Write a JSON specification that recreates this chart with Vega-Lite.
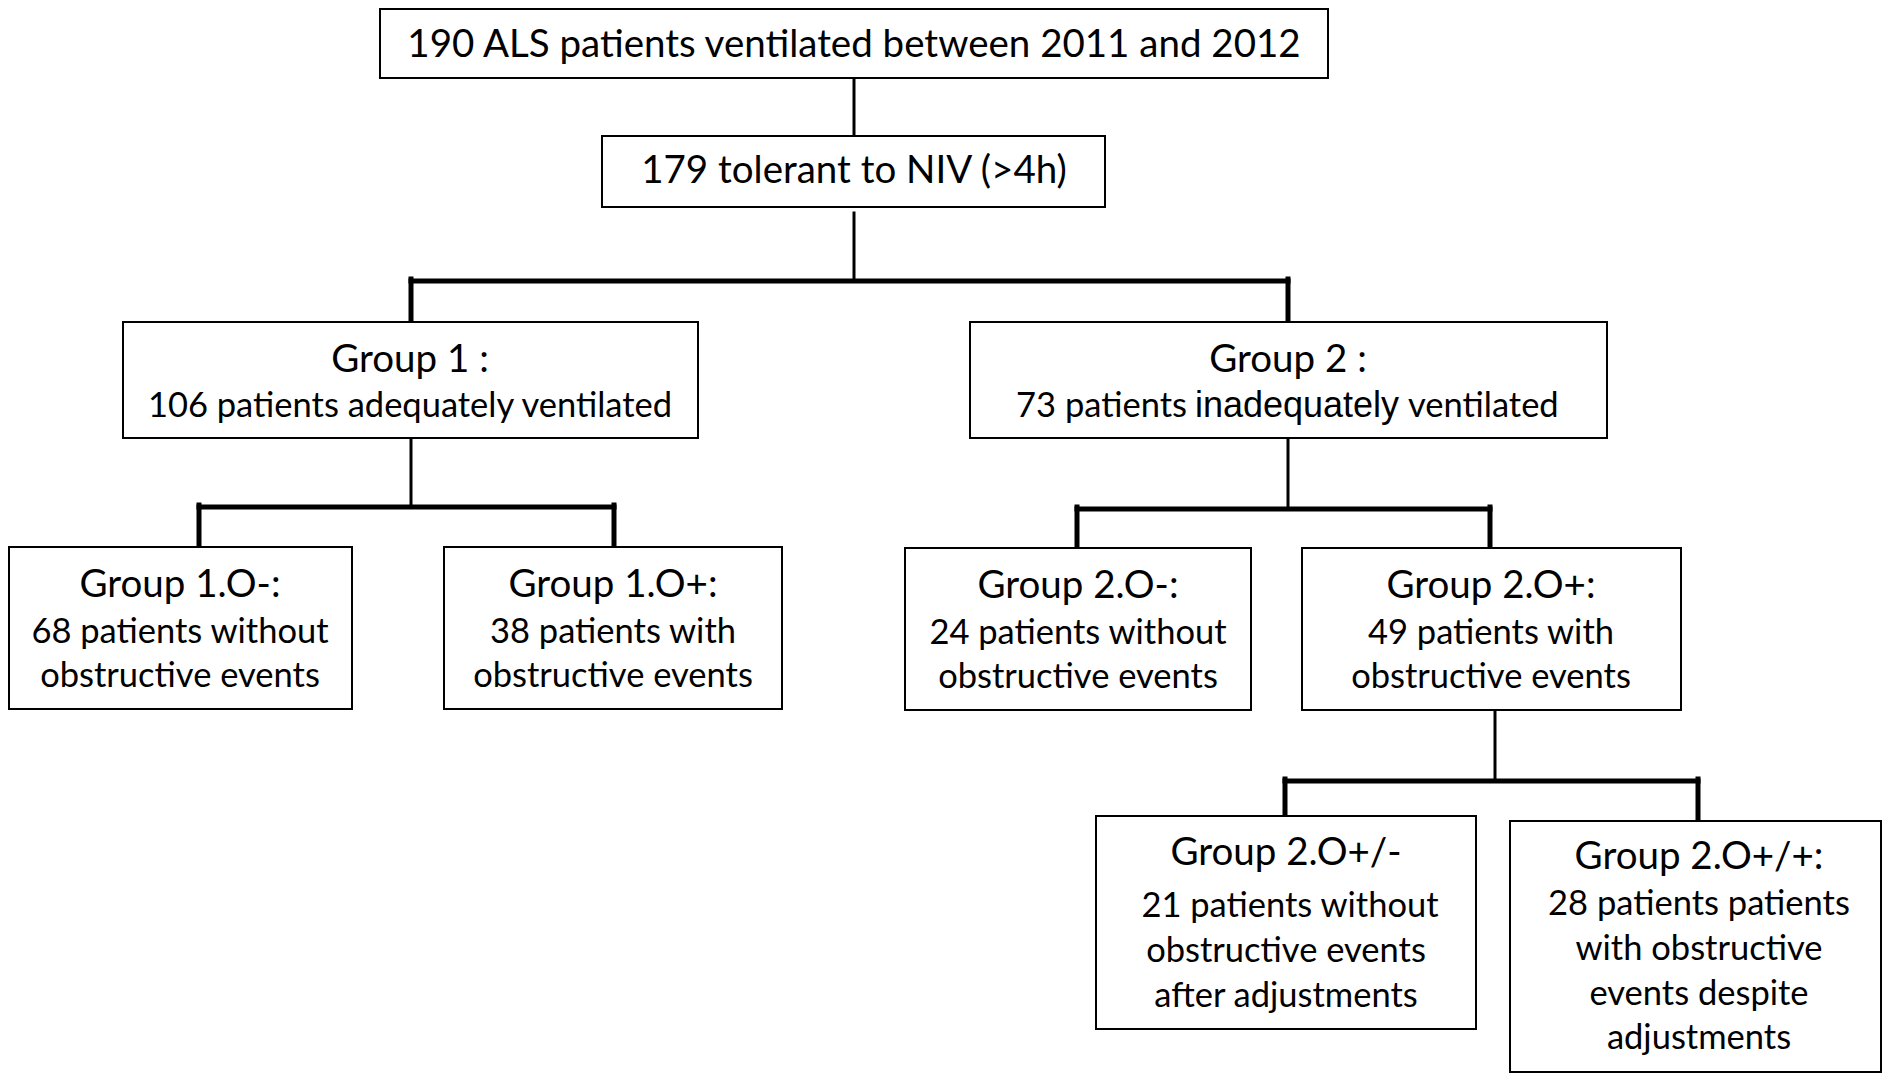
{
  "$schema": "https://vega.github.io/schema/vega-lite/v6.json",
  "width": 1883,
  "height": 1074,
  "padding": 0,
  "autosize": {"type": "fit", "contains": "padding"},
  "background": "white",
  "config": {"view": {"stroke": null}},
  "datasets": {
    "boxes": [
      {"box": "all", "x": 380, "x2": 1328, "y": 9, "y2": 78},
      {"box": "niv", "x": 602, "x2": 1105, "y": 136, "y2": 207},
      {"box": "g1", "x": 123, "x2": 698, "y": 322, "y2": 438},
      {"box": "g2", "x": 970, "x2": 1607, "y": 322, "y2": 438},
      {"box": "g1o-", "x": 9, "x2": 352, "y": 547, "y2": 709},
      {"box": "g1o+", "x": 444, "x2": 782, "y": 547, "y2": 709},
      {"box": "g2o-", "x": 905, "x2": 1251, "y": 548, "y2": 710},
      {"box": "g2o+", "x": 1302, "x2": 1681, "y": 548, "y2": 710},
      {"box": "g2o+/-", "x": 1096, "x2": 1476, "y": 816, "y2": 1029},
      {"box": "g2o+/+", "x": 1510, "x2": 1881, "y": 821, "y2": 1072}
    ],
    "links": [
      {"x": 854, "y": 78, "x2": 854, "y2": 136, "kind": "thin"},
      {"x": 854, "y": 213, "x2": 854, "y2": 279, "kind": "thin"},
      {"x": 411, "y": 281, "x2": 1288, "y2": 281, "kind": "thick"},
      {"x": 411, "y": 279, "x2": 411, "y2": 320, "kind": "thick"},
      {"x": 1288, "y": 279, "x2": 1288, "y2": 322, "kind": "thick"},
      {"x": 411, "y": 438, "x2": 411, "y2": 505, "kind": "thin"},
      {"x": 199, "y": 507, "x2": 614, "y2": 507, "kind": "thick"},
      {"x": 199, "y": 505, "x2": 199, "y2": 547, "kind": "thick"},
      {"x": 614, "y": 505, "x2": 614, "y2": 547, "kind": "thick"},
      {"x": 1288, "y": 438, "x2": 1288, "y2": 507, "kind": "thin"},
      {"x": 1077, "y": 509, "x2": 1490, "y2": 509, "kind": "thick"},
      {"x": 1077, "y": 507, "x2": 1077, "y2": 548, "kind": "thick"},
      {"x": 1490, "y": 507, "x2": 1490, "y2": 548, "kind": "thick"},
      {"x": 1495, "y": 710, "x2": 1495, "y2": 779, "kind": "thin"},
      {"x": 1285, "y": 781, "x2": 1698, "y2": 781, "kind": "thick"},
      {"x": 1285, "y": 779, "x2": 1285, "y2": 817, "kind": "thick"},
      {"x": 1698, "y": 779, "x2": 1698, "y2": 821, "kind": "thick"}
    ],
    "labels": [
      {"x": 854, "y": 57, "text": "190 ALS patients ventilated between 2011 and 2012", "role": "title"},
      {"x": 854, "y": 183, "text": "179 tolerant to NIV (>4h)", "role": "title"},
      {"x": 410, "y": 372, "text": "Group 1 :", "role": "title"},
      {"x": 410, "y": 417, "text": "106 patients adequately ventilated", "role": "body"},
      {"x": 1288, "y": 372, "text": "Group 2  :", "role": "title"},
      {"x": 180, "y": 597, "text": "Group 1.O-:", "role": "title"},
      {"x": 180, "y": 643, "text": "68 patients without", "role": "body"},
      {"x": 180, "y": 687, "text": "obstructive events", "role": "body"},
      {"x": 613, "y": 597, "text": "Group 1.O+:", "role": "title"},
      {"x": 613, "y": 643, "text": "38 patients with", "role": "body"},
      {"x": 613, "y": 687, "text": "obstructive events", "role": "body"},
      {"x": 1078, "y": 598, "text": "Group 2.O-:", "role": "title"},
      {"x": 1078, "y": 644, "text": "24 patients without", "role": "body"},
      {"x": 1078, "y": 688, "text": "obstructive events", "role": "body"},
      {"x": 1491, "y": 598, "text": "Group 2.O+:", "role": "title"},
      {"x": 1491, "y": 644, "text": "49 patients with", "role": "body"},
      {"x": 1491, "y": 688, "text": "obstructive events", "role": "body"},
      {"x": 1286, "y": 865, "text": "Group 2.O+/-", "role": "title"},
      {"x": 1290, "y": 917, "text": "21 patients without", "role": "body"},
      {"x": 1286, "y": 962, "text": "obstructive events", "role": "body"},
      {"x": 1286, "y": 1007, "text": "after adjustments", "role": "body"},
      {"x": 1699, "y": 869, "text": "Group 2.O+/+:", "role": "title"},
      {"x": 1699, "y": 915, "text": "28 patients patients", "role": "body"},
      {"x": 1699, "y": 960, "text": "with obstructive", "role": "body"},
      {"x": 1699, "y": 1005, "text": "events despite", "role": "body"},
      {"x": 1699, "y": 1049, "text": "adjustments", "role": "body"}
    ],
    "mixed": [
      {"x": 1187, "y": 417, "text": "73 patients", "part": "left"},
      {"x": 1297, "y": 417, "text": "inadequately", "part": "mid"},
      {"x": 1408, "y": 417, "text": "ventilated", "part": "right"}
    ]
  },
  "layer": [
    {
      "data": {"name": "links"},
      "mark": {"type": "rule", "color": "black", "strokeCap": "square"},
      "encoding": {
        "x": {"field": "x", "type": "quantitative", "axis": null, "scale": {"domain": [0, 1883], "nice": false, "zero": false}},
        "y": {"field": "y", "type": "quantitative", "axis": null, "scale": {"domain": [0, 1074], "nice": false, "zero": false, "reverse": true}},
        "x2": {"field": "x2"},
        "y2": {"field": "y2"},
        "strokeWidth": {"field": "kind", "type": "nominal", "legend": null, "scale": {"domain": ["thin", "thick"], "range": [3, 5]}}
      }
    },
    {
      "data": {"name": "boxes"},
      "mark": {"type": "rect", "fill": "white", "stroke": "black", "strokeWidth": 2},
      "encoding": {
        "x": {"field": "x", "type": "quantitative"},
        "x2": {"field": "x2"},
        "y": {"field": "y", "type": "quantitative"},
        "y2": {"field": "y2"}
      }
    },
    {
      "data": {"name": "labels"},
      "mark": {"type": "text", "font": "Lato", "align": "center", "baseline": "alphabetic", "color": "black"},
      "encoding": {
        "x": {"field": "x", "type": "quantitative"},
        "y": {"field": "y", "type": "quantitative"},
        "text": {"field": "text"},
        "size": {"field": "role", "type": "nominal", "legend": null, "scale": {"domain": ["title", "body"], "range": [38.5, 34.5]}}
      }
    },
    {
      "data": {"name": "mixed"},
      "transform": [{"filter": "datum.part === 'left'"}],
      "mark": {"type": "text", "font": "Lato", "fontSize": 34.5, "align": "right", "baseline": "alphabetic", "color": "black"},
      "encoding": {
        "x": {"field": "x", "type": "quantitative"},
        "y": {"field": "y", "type": "quantitative"},
        "text": {"field": "text"}
      }
    },
    {
      "data": {"name": "mixed"},
      "transform": [{"filter": "datum.part === 'mid'"}],
      "mark": {"type": "text", "font": "Liberation Sans", "fontSize": 36, "align": "center", "baseline": "alphabetic", "color": "black"},
      "encoding": {
        "x": {"field": "x", "type": "quantitative"},
        "y": {"field": "y", "type": "quantitative"},
        "text": {"field": "text"}
      }
    },
    {
      "data": {"name": "mixed"},
      "transform": [{"filter": "datum.part === 'right'"}],
      "mark": {"type": "text", "font": "Lato", "fontSize": 34.5, "align": "left", "baseline": "alphabetic", "color": "black"},
      "encoding": {
        "x": {"field": "x", "type": "quantitative"},
        "y": {"field": "y", "type": "quantitative"},
        "text": {"field": "text"}
      }
    }
  ]
}
